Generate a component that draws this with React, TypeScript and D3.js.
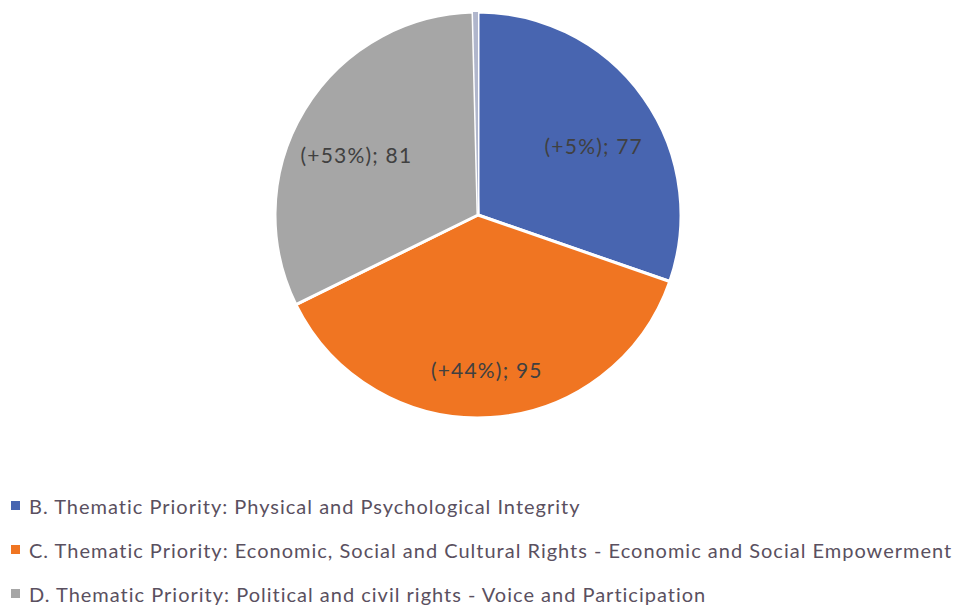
import React from 'react';
import * as d3 from 'd3';

// canvas
const width = 957;
const height = 606;

// pie geometry
const centerX = 478;
const centerY = 215;
const radius = 203;
const labelRadius = radius * 0.7;
const labelShiftY = 13;

// data
const categories = ['B', 'C', 'D', 'A'];
const values = [77, 95, 81, 1];
const changes = ['+5%', '+44%', '+53%', ''];
const colors = ['#4865b0', '#f07522', '#a6a6a6', '#b0b6cc'];
const legendLabels = [
  'B. Thematic Priority: Physical and Psychological Integrity',
  'C. Thematic Priority: Economic, Social and Cultural Rights - Economic and Social Empowerment',
  'D. Thematic Priority: Political and civil rights - Voice and Participation',
];

const fontFamily = 'Lato, "Open Sans", sans-serif';

const pieGen = d3
  .pie<number>()
  .sort(null)
  .value((d) => d);

const arcGen = d3
  .arc<d3.PieArcDatum<number>>()
  .innerRadius(0)
  .outerRadius(radius);

const labelArc = d3
  .arc<d3.PieArcDatum<number>>()
  .innerRadius(labelRadius)
  .outerRadius(labelRadius);

const App = () => {
  const slices = pieGen(values);

  const legendY = d3
    .scaleBand<number>()
    .domain(legendLabels.map((_, i) => i))
    .range([484, 616]);

  return (
    <svg width={width} height={height} style={{ position: 'absolute', left: 0, top: 0 }}>
      <rect width={width} height={height} fill="#ffffff" />
      <g transform={`translate(${centerX},${centerY})`}>
        {slices.map((s, i) => (
          <path
            key={categories[i]}
            d={arcGen(s) || ''}
            fill={colors[i]}
            stroke="#ffffff"
            strokeWidth={i === 3 ? 0 : 3}
            strokeLinejoin="round"
          />
        ))}
        {slices.map((s, i) => {
          if (!changes[i]) return null;
          const [x, y] = labelArc.centroid(s);
          return (
            <text
              key={'l' + categories[i]}
              x={x}
              y={y + labelShiftY}
              textAnchor="middle"
              dominantBaseline="central"
              fontFamily={fontFamily}
              fontSize={21}
              letterSpacing={1.2}
              fill="#404040"
            >
              {`(${changes[i]}); ${values[i]}`}
            </text>
          );
        })}
      </g>
      {legendLabels.map((label, i) => {
        const y = (legendY(i) || 0) + legendY.bandwidth() / 2;
        return (
          <g key={label}>
            <rect x={11} y={y - 5} width={9} height={9} fill={colors[i]} />
            <text
              x={29}
              y={y}
              dominantBaseline="central"
              fontFamily={fontFamily}
              fontSize={20}
              letterSpacing={1}
              fill="#5a5060"
            >
              {label}
            </text>
          </g>
        );
      })}
    </svg>
  );
};

export default App;
